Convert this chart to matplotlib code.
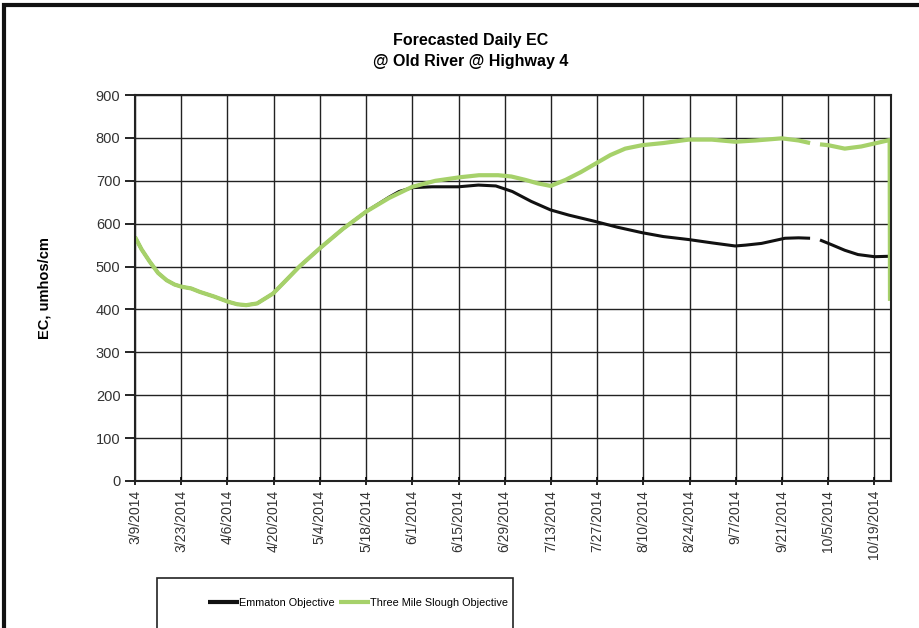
import numpy as np
import pandas as pd
import matplotlib
matplotlib.use("Agg")
import matplotlib.pyplot as plt
from matplotlib.patches import Rectangle

plt.rcParams['font.family'] = ['Liberation Sans', 'DejaVu Sans']

start = pd.Timestamp("2014-03-09")
end = pd.Timestamp("2014-10-24")

# days after 3/9/2014
emmaton_days = [0, 2, 4.5, 7, 9.6, 12, 14.1, 17, 19.6, 24, 28.2, 31, 33.7, 37,
                41.8, 45, 49.8, 55.9, 63, 70, 77, 80, 84, 90, 98, 104, 109.3,
                114.3, 120, 125.9, 131.4, 139.5, 146, 153.6, 160, 167.7, 175,
                181.8, 185, 189.8, 196.9, 201, 204.5, 206, 207.5, 211, 215, 219,
                224, 228.6]
emmaton_ec = [569, 540, 511, 485, 468, 458, 453, 449, 441, 430, 418, 412, 410, 414,
              437, 462, 500, 542, 588, 628, 662, 675, 684, 686, 686, 690, 688,
              675, 652, 632, 620, 605, 592, 579, 570, 563, 555,
              548, 550, 554, 566, 567, 566, np.nan, 562, 551, 538, 528,
              523, 524]

tms_days = [0, 2, 4.5, 7, 9.6, 12, 14.1, 17, 19.6, 24, 28.2, 31, 33.7, 37,
            41.8, 45, 49.8, 55.9, 63, 70, 77, 84, 91, 98.2, 104.2, 110, 114,
            118.3, 122, 125.9, 130.4, 135, 139.5, 144, 148.5, 153.6, 160, 167.7,
            174.7, 181.8, 188, 195.9, 201, 204.5, 206, 207.5, 210, 215, 220,
            224, 228.6, 228.7]
tms_ec = [569, 540, 511, 485, 468, 458, 453, 449, 441, 430, 418, 412, 410, 414,
          437, 462, 500, 542, 588, 628, 660, 686, 700, 708, 713, 713, 710,
          702, 694, 688, 702, 720, 740, 760, 775, 783, 788, 796,
          796, 791, 794, 799, 794, 788, np.nan, 785, 783, 775, 780,
          787, 795, 420]

tick_dates = pd.date_range("2014-03-09", "2014-10-19", freq="14D")
tick_labels = [f"{d.month}/{d.day}/{d.year}" for d in tick_dates]
y_ticks = list(range(0, 1000, 100))

em_x = [start + pd.Timedelta(days=d) for d in emmaton_days]
tm_x = [start + pd.Timedelta(days=d) for d in tms_days]

fig = plt.figure(figsize=(9.19, 6.28), dpi=100)
ax = fig.add_axes([0.1469, 0.2341, 0.8226, 0.6146])

ax.plot(em_x, emmaton_ec, color="#111111", lw=2.2, label="Emmaton Objective",
        solid_capstyle="butt", solid_joinstyle="round")
ax.plot(tm_x, tms_ec, color="#a6d16a", lw=3, label="Three Mile Slough Objective",
        solid_capstyle="butt", solid_joinstyle="round")

ax.set_xlim(start, end)
ax.set_ylim(0, 900)
ax.set_xticks(tick_dates)
ax.set_xticklabels(tick_labels, rotation=90, fontsize=10, color="#333333")
ax.set_yticks(y_ticks)
ax.set_yticklabels([str(v) for v in y_ticks], fontsize=10.5, color="#333333")
ax.grid(True, color="#222222", lw=1)
ax.set_axisbelow(True)
for s in ax.spines.values():
    s.set_linewidth(1.5)
    s.set_color("#222222")
ax.tick_params(axis="x", length=6, width=1.2, direction="inout")
ax.tick_params(axis="y", length=7, width=1.2, direction="out")

ax.set_ylabel("EC, umhos/cm", fontsize=10.5, fontweight="bold")
ax.yaxis.set_label_coords(-0.11, 0.5)

fig.text(0.512, 0.919, "Forecasted Daily EC\n@ Old River @ Highway 4",
         ha="center", va="center", fontsize=11.5, fontweight="bold",
         linespacing=1.55)

# legend box runs off the bottom of the scan
fig.patches.append(Rectangle((157 / 919, -0.02), 356 / 919, 0.02 + 50 / 628,
                             transform=fig.transFigure, fill=False, lw=1.2,
                             edgecolor="#222222"))
leg = fig.legend(loc="center left", bbox_to_anchor=(203 / 919, 1 - 603 / 628),
                 ncol=2, frameon=False, fontsize=7.8, handlelength=2.8,
                 handletextpad=0.05, columnspacing=0.4, borderpad=0)
for h in leg.get_lines():
    h.set_linewidth(3)

# scanned page frame
fig.patches.append(Rectangle((0.004, -0.01), 1.2, 1.002, transform=fig.transFigure,
                             fill=False, lw=3, edgecolor="#111111"))

fig.savefig("out.png", dpi=100)
